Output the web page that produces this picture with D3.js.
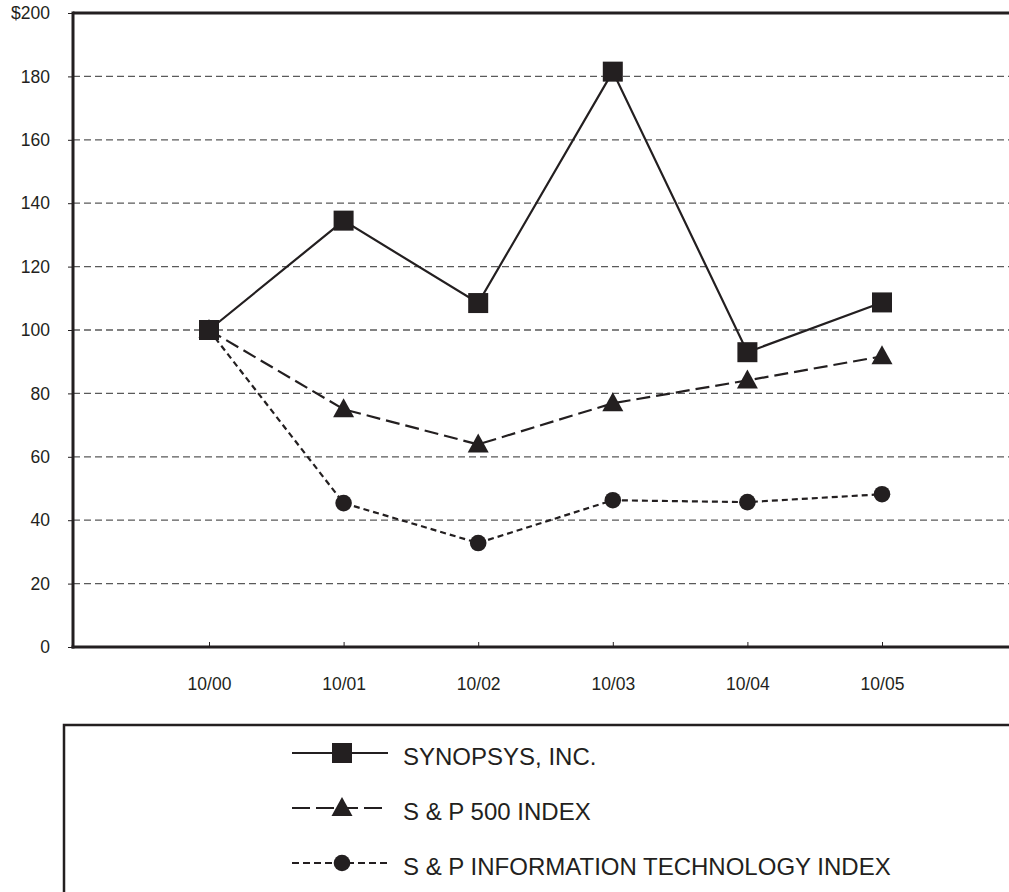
<!DOCTYPE html>
<html>
<head>
<meta charset="utf-8">
<script src="https://cdn.jsdelivr.net/npm/d3@7"></script>
<style>
  html, body { margin: 0; padding: 0; background: #fff; }
  svg { display: block; font-family: "Liberation Sans", Arial, Helvetica, sans-serif; }
</style>
</head>
<body>
<svg id="chart" width="1009" height="892"></svg>
<script>
// ---- data ----
const categories = ["10/00", "10/01", "10/02", "10/03", "10/04", "10/05"];
const synopsys   = [100, 134.5, 108.5, 181.5, 93, 108.7];
const sp500      = [100, 75, 63.9, 76.9, 84.1, 91.7];
const spIT       = [100, 45.4, 32.8, 46.3, 45.7, 48.2];
const yTicks     = [0, 20, 40, 60, 80, 100, 120, 140, 160, 180, 200];
const seriesNames = ["SYNOPSYS, INC.", "S & P 500 INDEX", "S & P INFORMATION TECHNOLOGY INDEX"];

// ---- layout ----
const ink = "#231f20";
const svg = d3.select("#chart");
const plotLeft = 73, plotRight = 1009, plotTop = 13, plotBottom = 647;

const x = d3.scalePoint().domain(categories).range([209, 882]);
const y = d3.scaleLinear().domain([0, 200]).range([plotBottom, plotTop]);

// gridlines
svg.append("g").selectAll("line")
  .data(yTicks.filter(d => d > 0 && d < 200))
  .join("line")
  .attr("x1", plotLeft).attr("x2", plotRight)
  .attr("y1", d => y(d)).attr("y2", d => y(d))
  .attr("stroke", "#5a5a5a").attr("stroke-width", 1.3)
  .attr("stroke-dasharray", "7,4");

// top border line
svg.append("line")
  .attr("x1", plotLeft).attr("x2", plotRight)
  .attr("y1", y(200)).attr("y2", y(200))
  .attr("stroke", ink).attr("stroke-width", 3);

// y axis
const yAxis = d3.axisLeft(y).tickValues(yTicks)
  .tickFormat(d => d === 200 ? "$200" : d)
  .tickSize(5).tickPadding(18);
const gy = svg.append("g").attr("transform", `translate(${plotLeft},0)`).call(yAxis);
gy.select(".domain").remove();
gy.selectAll(".tick line").attr("stroke", ink).attr("stroke-width", 1);
gy.selectAll(".tick text").attr("fill", ink).style("font-size", "17.5px");
svg.append("line")
  .attr("x1", plotLeft).attr("x2", plotLeft)
  .attr("y1", plotTop - 1.5).attr("y2", plotBottom + 1.5)
  .attr("stroke", ink).attr("stroke-width", 3);

// x axis
const xAxis = d3.axisBottom(x).tickSizeInner(-5).tickSizeOuter(0).tickPadding(30.5);
const gx = svg.append("g").attr("transform", `translate(0,${plotBottom})`).call(xAxis);
gx.select(".domain").remove();
gx.selectAll(".tick line").attr("stroke", ink).attr("stroke-width", 1);
gx.selectAll(".tick text").attr("fill", ink).style("font-size", "17.5px");
svg.append("line")
  .attr("x1", plotLeft - 1.5).attr("x2", plotRight)
  .attr("y1", plotBottom).attr("y2", plotBottom)
  .attr("stroke", ink).attr("stroke-width", 3);

// series
const series = [
  { name: seriesNames[0], values: synopsys, dash: null, marker: "square" },
  { name: seriesNames[1], values: sp500, dash: "14,6", marker: "triangle" },
  { name: seriesNames[2], values: spIT, dash: "6,4", marker: "circle" }
];

const line = d3.line().x((d, i) => x(categories[i])).y(d => y(d));

function drawMarker(g, type, cx, cy) {
  if (type === "square") {
    g.append("rect").attr("x", cx - 10).attr("y", cy - 10)
      .attr("width", 20).attr("height", 20).attr("fill", ink);
  } else if (type === "triangle") {
    g.append("path")
      .attr("d", "M0,-11 L10.5,8 L-10.5,8 Z")
      .attr("transform", `translate(${cx},${cy})`)
      .attr("fill", ink);
  } else {
    g.append("circle").attr("cx", cx).attr("cy", cy).attr("r", 8.3).attr("fill", ink);
  }
}

// draw lines in reverse order so Synopsys is on top
series.slice().reverse().forEach(s => {
  svg.append("path").datum(s.values)
    .attr("d", line).attr("fill", "none")
    .attr("stroke", ink).attr("stroke-width", 2.2)
    .attr("stroke-dasharray", s.dash);
});
series.slice().reverse().forEach(s => {
  const g = svg.append("g");
  s.values.forEach((v, i) => drawMarker(g, s.marker, x(categories[i]), y(v)));
});

// legend box
svg.append("path")
  .attr("d", `M 1012 725 L 64 725 L 64 895`)
  .attr("fill", "none").attr("stroke", ink).attr("stroke-width", 2.5);

const legendY = [753, 808, 863];
series.forEach((s, i) => {
  const g = svg.append("g");
  g.append("line").attr("x1", 292).attr("x2", 388)
    .attr("y1", legendY[i]).attr("y2", legendY[i])
    .attr("stroke", ink).attr("stroke-width", 2.2)
    .attr("stroke-dasharray", i === 1 ? "18,6" : (i === 2 ? "7,4" : null));
  drawMarker(g, s.marker, 342, legendY[i]);
  g.append("text").attr("x", 403).attr("y", legendY[i] + 12)
    .attr("fill", ink).style("font-size", "24px").text(s.name);
});
</script>
</body>
</html>
